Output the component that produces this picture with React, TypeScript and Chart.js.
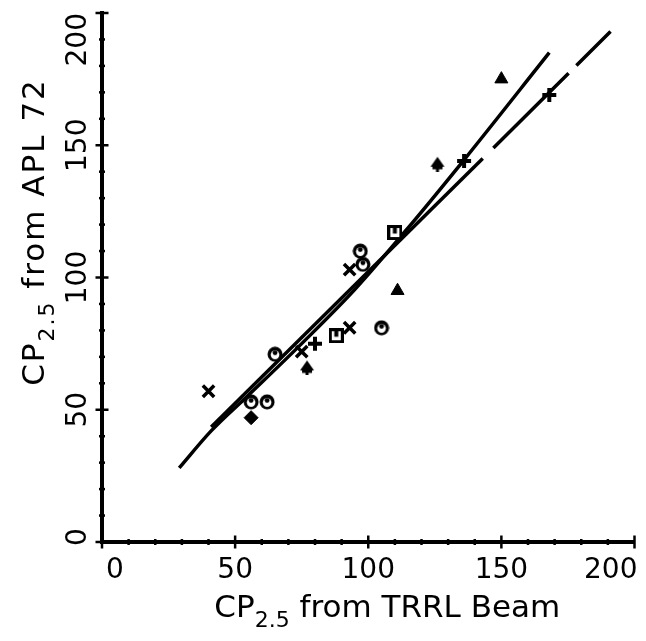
import React, { useEffect, useRef } from "react";
import { Chart, registerables } from "chart.js";

Chart.register(...registerables);

// ---- axis definitions ----
const X_TICKS = [0, 50, 100, 150, 200];
const Y_TICKS = [0, 50, 100, 150, 200];
const MINOR_STEP = 10;
const X_TITLE = ["CP", "2.5", " from TRRL Beam"];
const Y_TITLE = ["CP", "2.5", " from APL 72"];

// ---- data points (x = TRRL Beam, y = APL 72) ----
const crossRotPts = [
  { x: 40, y: 57 },
  { x: 75, y: 72 },
  { x: 93, y: 81 },
  { x: 93, y: 103 },
];
const plusPts = [
  { x: 80, y: 75 },
  { x: 136, y: 144 },
  { x: 168, y: 169 },
];
const spadePts = [
  { x: 77, y: 66 },
  { x: 126, y: 143 },
];
const circlePts = [
  { x: 56, y: 53 },
  { x: 62, y: 53 },
  { x: 65, y: 71 },
  { x: 97, y: 110 },
  { x: 98, y: 105 },
  { x: 105, y: 81 },
];
const squarePts = [
  { x: 88, y: 78 },
  { x: 110, y: 117 },
];
const trianglePts = [
  { x: 111, y: 95 },
  { x: 150, y: 175 },
];
const diamondPts = [{ x: 56, y: 47 }];

// ---- fitted lines ----
const curveLine = [
  { x: 29, y: 28 },
  { x: 41, y: 42 },
  { x: 55, y: 55.5 },
  { x: 75, y: 75 },
  { x: 95, y: 95.5 },
  { x: 116, y: 120 },
  { x: 136, y: 144.5 },
  { x: 168, y: 185 },
];
const solidLine = [
  { x: 41, y: 43.5 },
  { x: 143, y: 145 },
];
const dashedLine = [
  { x: 147, y: 149 },
  { x: 191, y: 193 },
];

const FONT = '"DejaVu Sans", sans-serif';

function drawSubTitle(
  ctx: CanvasRenderingContext2D,
  parts: string[],
  size: number,
  spacing: number
) {
  const big = `${size}px ${FONT}`;
  const small = `${Math.round(size * 0.72)}px ${FONT}`;
  (ctx as any).letterSpacing = `${spacing}px`;
  ctx.font = big;
  const w1 = ctx.measureText(parts[0]).width;
  ctx.font = small;
  const w2 = ctx.measureText(parts[1]).width;
  ctx.font = big;
  const w3 = ctx.measureText(parts[2]).width;
  const total = w1 + w2 + w3;
  const x0 = -total / 2;
  ctx.textAlign = "left";
  ctx.textBaseline = "alphabetic";
  ctx.font = big;
  ctx.fillText(parts[0], x0, 0);
  ctx.font = small;
  ctx.fillText(parts[1], x0 + w1, size * 0.32);
  ctx.font = big;
  ctx.fillText(parts[2], x0 + w1 + w2, 0);
  (ctx as any).letterSpacing = "0px";
}

const axisDecor = {
  id: "axisDecor",
  afterDraw(chart: any) {
    const { ctx, chartArea } = chart;
    const xs = chart.scales.x;
    const ys = chart.scales.y;
    ctx.save();
    ctx.strokeStyle = "#000";
    ctx.fillStyle = "#000";
    ctx.lineWidth = 2.5;
    ctx.lineCap = "butt";
    // tick marks crossing the axes
    for (let v = xs.min; v <= xs.max; v += MINOR_STEP) {
      const px = xs.getPixelForValue(v);
      const len = X_TICKS.includes(v) ? 6.5 : 3;
      ctx.beginPath();
      ctx.moveTo(px, chartArea.bottom - len);
      ctx.lineTo(px, chartArea.bottom + len);
      ctx.stroke();
    }
    for (let v = ys.min; v <= ys.max; v += MINOR_STEP) {
      const py = ys.getPixelForValue(v);
      const len = Y_TICKS.includes(v) ? 6.5 : 3;
      ctx.beginPath();
      ctx.moveTo(chartArea.left - len, py);
      ctx.lineTo(chartArea.left + len, py);
      ctx.stroke();
    }
    // x tick labels
    ctx.font = `28px ${FONT}`;
    ctx.textBaseline = "alphabetic";
    X_TICKS.forEach((v, i) => {
      const px = xs.getPixelForValue(v);
      let align: CanvasTextAlign = "center";
      let off = 0;
      if (i === 0) {
        align = "left";
        off = 4;
      } else if (i === X_TICKS.length - 1) {
        align = "right";
        off = 3;
      }
      ctx.textAlign = align;
      ctx.fillText(String(v), px + off, chartArea.bottom + 36);
    });
    // y tick labels (rotated)
    Y_TICKS.forEach((v, i) => {
      const py = ys.getPixelForValue(v);
      ctx.save();
      ctx.translate(chartArea.left - 16, py);
      ctx.rotate(-Math.PI / 2);
      let align: CanvasTextAlign = "center";
      let off = 0;
      if (i === 0) {
        align = "left";
        off = -4;
      } else if (i === Y_TICKS.length - 1) {
        align = "right";
        off = 0;
      }
      ctx.textAlign = align;
      ctx.fillText(String(v), off, 0);
      ctx.restore();
    });
    // x title
    ctx.save();
    ctx.translate((chartArea.left + chartArea.right) / 2 + 19, chartArea.bottom + 75);
    drawSubTitle(ctx, X_TITLE, 31, 0);
    ctx.restore();
    // y title
    ctx.save();
    ctx.translate(chartArea.left - 58, 232);
    ctx.rotate(-Math.PI / 2);
    drawSubTitle(ctx, Y_TITLE, 31, 2);
    ctx.restore();
    ctx.restore();
  },
};

function makeMarker(size: number, draw: (g: CanvasRenderingContext2D) => void) {
  const c = document.createElement("canvas");
  c.width = size;
  c.height = size;
  const g = c.getContext("2d")!;
  draw(g);
  return c;
}

export default function App() {
  const ref = useRef<HTMLCanvasElement | null>(null);

  useEffect(() => {
    if (!ref.current) return;

    const circleMarker = makeMarker(16, (g) => {
      g.fillStyle = "#000";
      g.beginPath();
      g.arc(8, 8, 7.5, 0, Math.PI * 2);
      g.fill();
      g.fillStyle = "#fff";
      g.beginPath();
      g.arc(8, 8.6, 4.3, 0, Math.PI * 2);
      g.fill();
      g.fillStyle = "#000";
      g.beginPath();
      g.arc(8, 6.6, 2.4, 0, Math.PI * 2);
      g.fill();
    });
    const squareMarker = makeMarker(15, (g) => {
      g.fillStyle = "#000";
      g.fillRect(0, 0, 15, 15);
      g.fillStyle = "#fff";
      g.fillRect(3, 3, 9, 9);
      g.fillStyle = "#000";
      g.fillRect(5.5, 3, 4, 5.5);
    });
    const spadeMarker = makeMarker(16, (g) => {
      g.fillStyle = "#000";
      g.beginPath();
      g.moveTo(8, 1);
      g.lineTo(15, 11);
      g.lineTo(1, 11);
      g.closePath();
      g.fill();
      g.fillRect(6.5, 9, 3, 7);
      g.fillRect(3, 11, 10, 2.5);
    });

    const pointBase = {
      showLine: false,
      borderColor: "#000",
      backgroundColor: "#000",
      pointBorderColor: "#000",
      pointBackgroundColor: "#000",
    };
    const lineBase = {
      showLine: true,
      borderColor: "#000",
      backgroundColor: "#000",
      pointRadius: 0,
      fill: false,
      borderWidth: 3.5,
    };

    const chart = new Chart(ref.current, {
      type: "scatter",
      data: {
        datasets: [
          { ...pointBase, data: circlePts, pointStyle: circleMarker as any, pointRadius: 8 },
          { ...pointBase, data: squarePts, pointStyle: squareMarker as any, pointRadius: 8 },
          { ...pointBase, data: spadePts, pointStyle: spadeMarker as any, pointRadius: 8 },
          { ...pointBase, data: crossRotPts, pointStyle: "crossRot", pointRadius: 8, pointBorderWidth: 3.5 },
          { ...pointBase, data: plusPts, pointStyle: "cross", pointRadius: 7, pointBorderWidth: 4 },
          { ...pointBase, data: trianglePts, pointStyle: "triangle", pointRadius: 7.5, pointBorderWidth: 1 },
          { ...pointBase, data: diamondPts, pointStyle: "rectRot", pointRadius: 7, pointBorderWidth: 1 },
          { ...lineBase, data: curveLine, cubicInterpolationMode: "monotone" },
          { ...lineBase, data: solidLine },
          { ...lineBase, data: dashedLine, borderDash: [106, 11], borderCapStyle: "butt" },
        ] as any,
      },
      options: {
        responsive: false,
        animation: false,
        events: [],
        layout: { padding: { left: 102, right: 11, top: 13, bottom: 99 } },
        scales: {
          x: {
            type: "linear",
            min: 0,
            max: 200,
            grid: { display: false, drawTicks: false },
            ticks: { display: false },
            border: { display: true, color: "#000", width: 4 },
          },
          y: {
            type: "linear",
            min: 0,
            max: 200,
            grid: { display: false, drawTicks: false },
            ticks: { display: false },
            border: { display: true, color: "#000", width: 4 },
          },
        },
        plugins: {
          legend: { display: false },
          tooltip: { enabled: false },
        },
      } as any,
      plugins: [axisDecor],
    });
    return () => chart.destroy();
  }, []);

  return (
    <div style={{ position: "fixed", left: 0, top: 0, width: 646, height: 641, background: "#fff" }}>
      <canvas ref={ref} width={646} height={641} style={{ display: "block", width: 646, height: 641 }} />
    </div>
  );
}
